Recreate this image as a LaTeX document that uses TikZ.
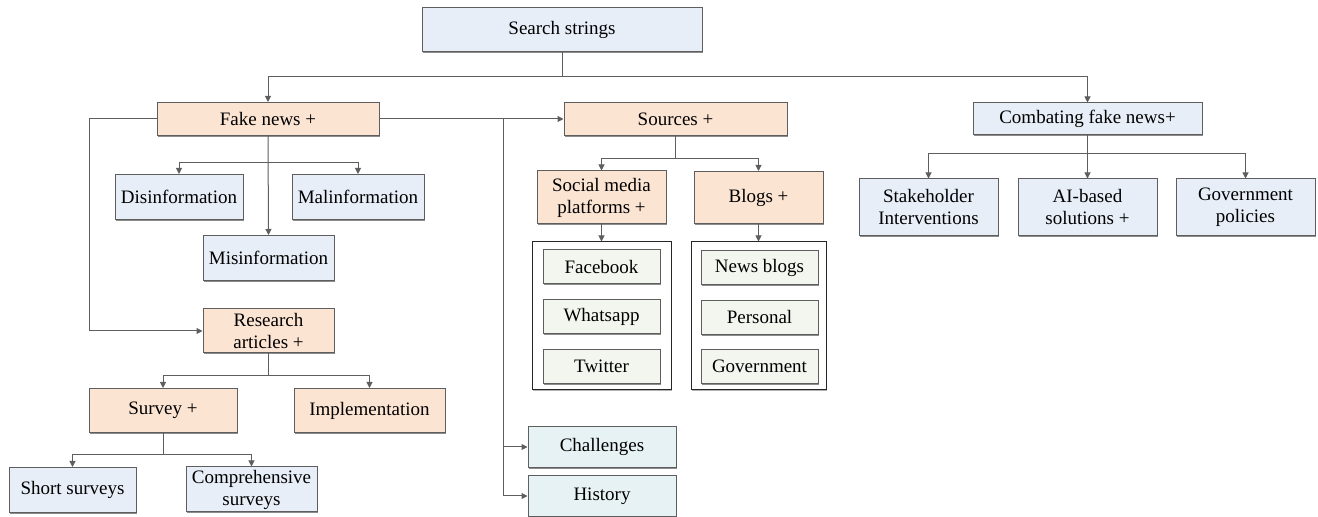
\documentclass[tikz,border=0pt]{standalone}
\usepackage{fontspec}
\setmainfont{Liberation Serif}
\usetikzlibrary{arrows.meta,shadows}
\definecolor{blufill}{HTML}{E8EEF7}
\definecolor{orgfill}{HTML}{FCE4D3}
\definecolor{grnfill}{HTML}{F3F6EE}
\definecolor{telfill}{HTML}{E7F2F5}
\definecolor{edgegray}{HTML}{5E5E5E}
\begin{document}
\begin{tikzpicture}
	  [
	    x                       = 0.5pt,
	    y                       = -0.5pt,
	    every node/.style       = {font=\fontsize{9.5}{11}\selectfont, align=center, inner sep=1pt},
	    box/.style              = {draw=edgegray, line width=0.5pt,
	                               drop shadow={shadow xshift=0.7pt, shadow yshift=-0.7pt, fill=black!45, opacity=1}},
	    blubox/.style           = {box, fill=blufill},
	    orgbox/.style           = {box, fill=orgfill},
	    grnbox/.style           = {box, fill=grnfill, minimum width=58.5pt, minimum height=17pt},
	    telbox/.style           = {box, fill=telfill, minimum width=74pt, minimum height=20.5pt},
	    frame/.style            = {draw=black!85, line width=0.5pt, fill=white,
	                               drop shadow={shadow xshift=0.5pt, shadow yshift=-0.5pt, fill=black!30, opacity=1}},
	    conn/.style             = {draw=edgegray, line width=0.5pt},
	    arr/.style              = {conn, -{Triangle[length=3pt,width=3pt]}}
	  ]
	  \useasboundingbox (0,0) rectangle (1318,517);
	  % top level
	  \node[blubox, minimum width=140pt, minimum height=22pt] (search) at (562,29.5) {Search strings};
	  \node[orgbox, minimum width=111pt, minimum height=16.5pt] (fake) at (268,119) {Fake news +};
	  \node[orgbox, minimum width=111.5pt, minimum height=16.5pt] (sources) at (675.5,119) {Sources +};
	  \node[blubox, minimum width=114.5pt, minimum height=16pt] (combat) at (1087.5,119) {Combating fake news+};
	  % fake news branch
	  \node[blubox, minimum width=64pt, minimum height=22.5pt] (disinfo) at (179,197) {Disinformation};
	  \node[blubox, minimum width=66pt, minimum height=22.5pt] (malinfo) at (358,197) {Malinformation};
	  \node[blubox, minimum width=65.5pt, minimum height=22.5pt] (misinfo) at (268.5,258) {Misinformation};
	  \node[orgbox, minimum width=65.5pt, minimum height=22pt] (research) at (268.5,331) {Research\\articles +};
	  \node[orgbox, minimum width=74pt, minimum height=22pt] (survey) at (163,410.5) {Survey +};
	  \node[orgbox, minimum width=75.5pt, minimum height=22pt] (impl) at (369.5,410.5) {Implementation};
	  \node[blubox, minimum width=63.5pt, minimum height=22.5pt] (short) at (72.5,490) {Short surveys};
	  \node[blubox, minimum width=65.5pt, minimum height=22.5pt] (compr) at (251.5,489.5) {Comprehensive\\surveys};
	  % sources branch
	  \node[orgbox, minimum width=64.5pt, minimum height=26.5pt] (social) at (601.5,197.5) {Social media\\platforms +};
	  \node[orgbox, minimum width=64.5pt, minimum height=26pt] (blogs) at (758.5,197.5) {Blogs +};
	  \node[frame, minimum width=69.5pt, minimum height=74pt] (sframe) at (601.5,316) {};
	  \node[frame, minimum width=67.5pt, minimum height=74pt] (bframe) at (758.5,316) {};
	  \node[grnbox] (facebook) at (601.5,267) {Facebook};
	  \node[grnbox] (whatsapp) at (601.5,316.5) {Whatsapp};
	  \node[grnbox] (twitter) at (601.5,366.5) {Twitter};
	  \node[grnbox] (newsblogs) at (759.5,268) {News blogs};
	  \node[grnbox] (personal) at (759.5,317.5) {Personal};
	  \node[grnbox] (govt) at (759.5,366.5) {Government};
	  \node[telbox] (challenges) at (602,447) {Challenges};
	  \node[telbox] (history) at (602,496) {History};
	  % combating branch
	  \node[blubox, minimum width=69.5pt, minimum height=28.5pt] (stake) at (928.5,207.5) {Stakeholder\\Interventions};
	  \node[blubox, minimum width=69.5pt, minimum height=28.5pt] (aibased) at (1087.5,207.5) {AI-based\\solutions +};
	  \node[blubox, minimum width=69.5pt, minimum height=28.5pt] (govpol) at (1245.5,207.5) {Government\\policies};
	  % connectors
	  \coordinate (hub) at (562,76.5);
	  \coordinate (fkhub) at (268,162.5);
	  \coordinate (rshub) at (268.5,375.5);
	  \coordinate (svhub) at (163,454.5);
	  \coordinate (srhub) at (675.5,158.5);
	  \coordinate (cbhub) at (1087.5,153.5);
	  \coordinate (spl) at (503,119);
	  \draw[conn] (search.south) -- (hub);
	  \draw[arr] (hub) -| (fake.north);
	  \draw[arr] (hub) -| (combat.north);
	  \draw[arr] (fake.east) -- (sources.west);
	  \draw[arr] (spl) |- (challenges.west);
	  \draw[arr] (spl) |- (history.west);
	  \draw[arr] (fake.west) -- ++(-67,0) |- (research.west);
	  \draw[arr] (fake.south) -- (misinfo.north);
	  \draw[arr] (fkhub) -| (disinfo.north);
	  \draw[arr] (fkhub) -| (malinfo.north);
	  \draw[conn] (research.south) -- (rshub);
	  \draw[arr] (rshub) -| (survey.north);
	  \draw[arr] (rshub) -| (impl.north);
	  \draw[conn] (survey.south) -- (svhub);
	  \draw[arr] (svhub) -| (short.north);
	  \draw[arr] (svhub) -| (compr.north);
	  \draw[conn] (sources.south) -- (srhub);
	  \draw[arr] (srhub) -| (social.north);
	  \draw[arr] (srhub) -| (blogs.north);
	  \draw[arr] (social.south) -- (sframe.north);
	  \draw[arr] (blogs.south) -- (bframe.north);
	  \draw[arr] (combat.south) -- (aibased.north);
	  \draw[arr] (cbhub) -| (stake.north);
	  \draw[arr] (cbhub) -| (govpol.north);
	\end{tikzpicture}
\end{document}
